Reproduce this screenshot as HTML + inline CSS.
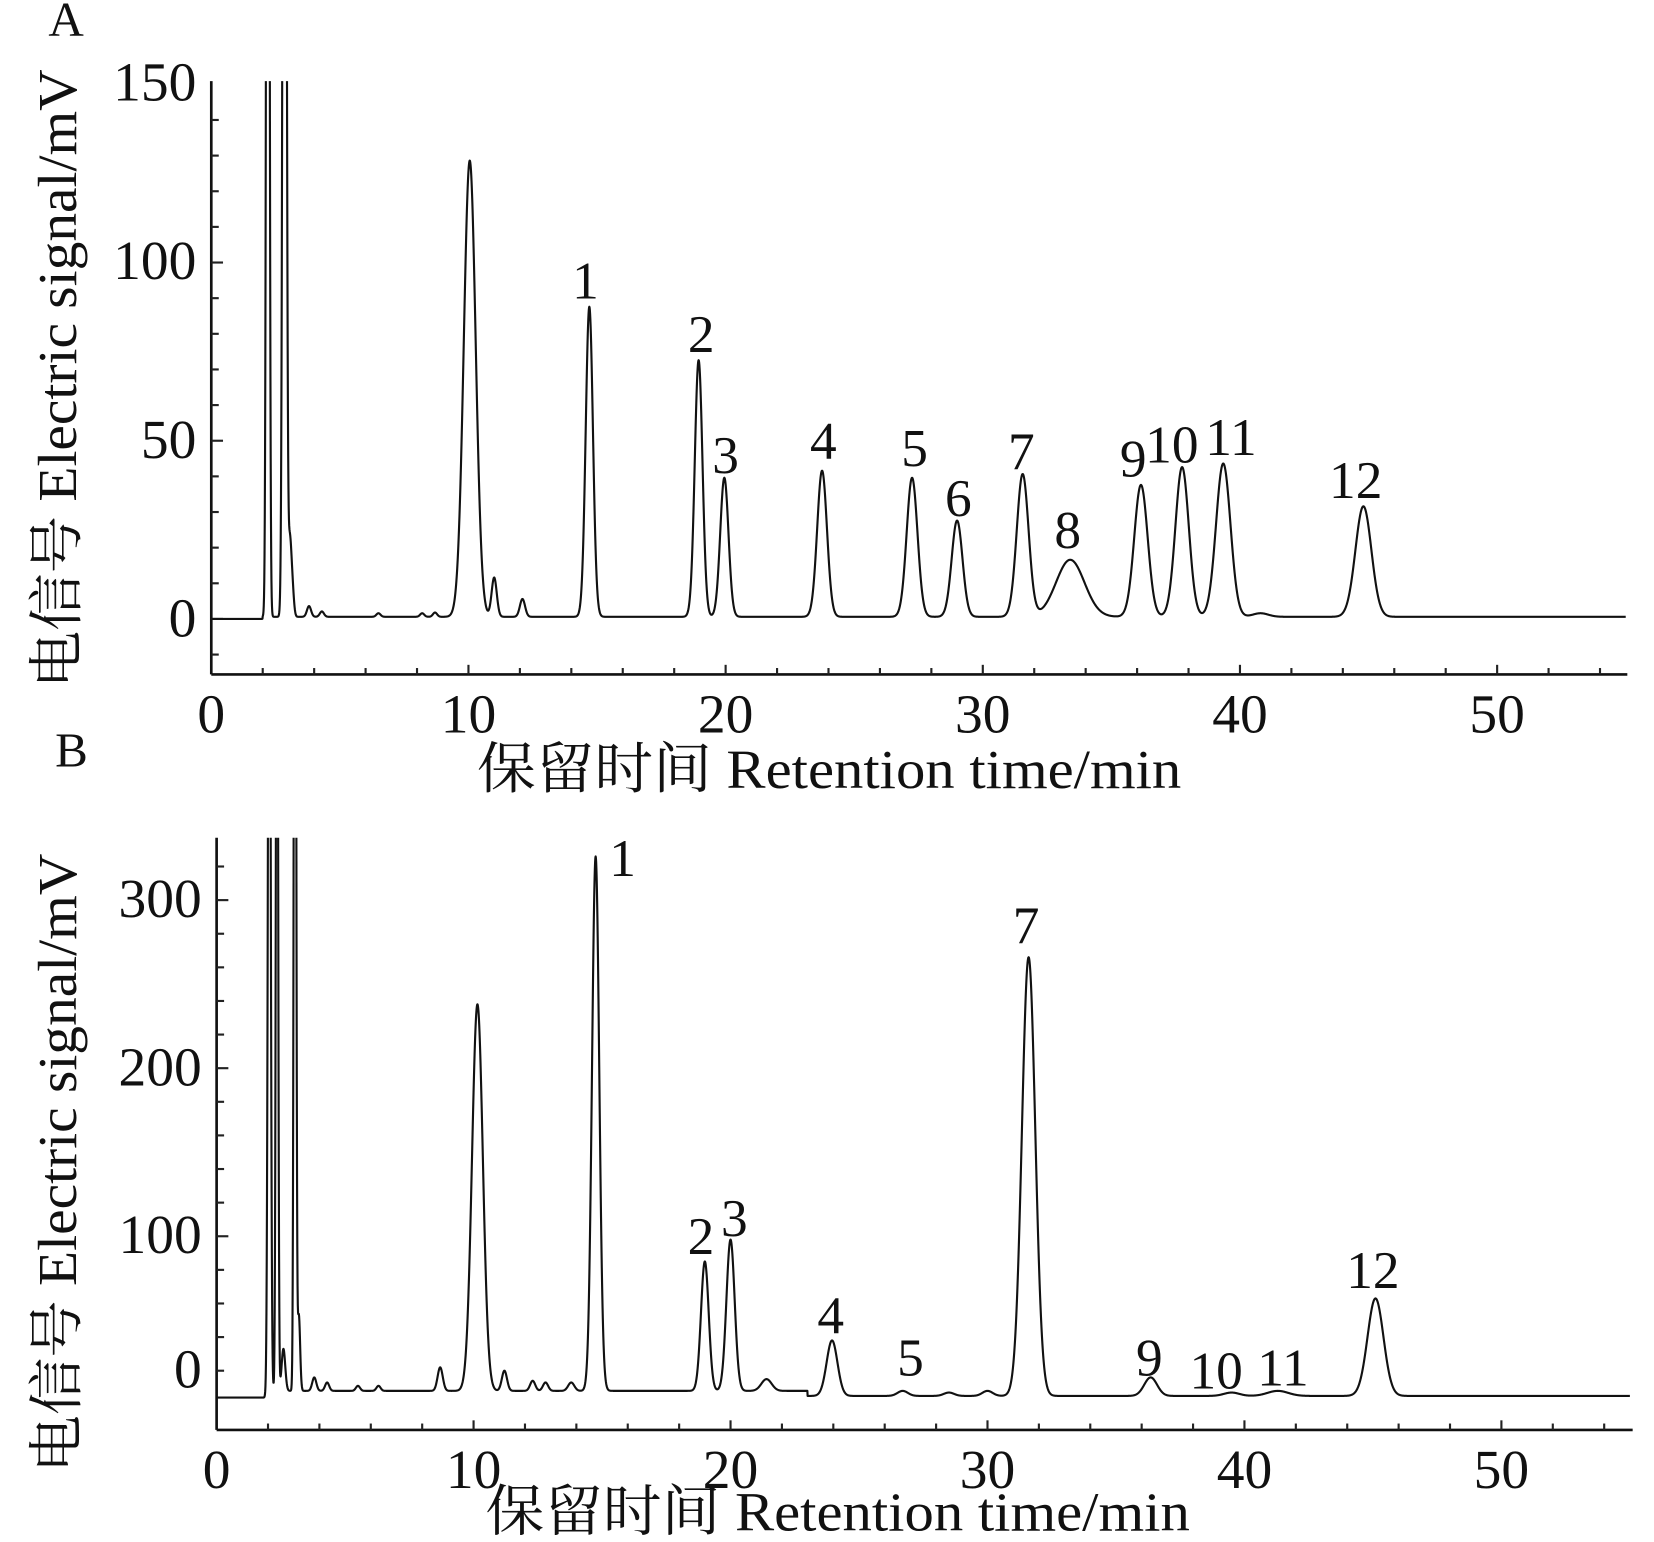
<!DOCTYPE html>
<html><head><meta charset="utf-8">
<style>
html,body{margin:0;padding:0;background:#fff;}
svg{display:block;}
text{font-family:"Liberation Serif","Noto Serif CJK SC","Noto Sans CJK SC",serif;fill:#111;}
</style></head>
<body>
<svg id="fig" width="1654" height="1542" viewBox="0 0 1550 1445" xmlns="http://www.w3.org/2000/svg">
<defs>
<clipPath id="clipA"><rect x="198" y="76" width="1330" height="556"/></clipPath>
<clipPath id="clipB"><rect x="203" y="785" width="1330" height="555"/></clipPath>
</defs>
<text x="62" y="18" font-size="46" text-anchor="middle" dominant-baseline="central">A</text>
<text x="67" y="703" font-size="46" text-anchor="middle" dominant-baseline="central">B</text>
<g id="gA"></g>
<g id="gB"></g>
</svg>
<script>
// ---- Panel A data ----
const peakTimesA = [2.2, 2.85, 3.05, 3.15, 3.8, 4.3, 6.5, 8.2, 8.7, 10.05, 11.0, 12.1, 14.7, 18.95, 19.95, 23.75, 27.25, 29.0, 31.55, 33.4, 36.15, 37.75, 39.35, 40.8, 44.8];
const peakHeightsA = [500, 500, 20, 8, 3, 1.5, 1, 1, 1.2, 128, 11, 5, 87, 72, 39, 41, 39, 27, 40, 16, 37, 42, 43, 1, 31];
const peakWidthsA = [0.05, 0.06, 0.06, 0.06, 0.08, 0.08, 0.08, 0.08, 0.08, 0.23, 0.1, 0.1, 0.14, 0.15, 0.16, 0.19, 0.21, 0.21, 0.23, 0.55, 0.26, 0.26, 0.28, 0.3, 0.31];
const labelTextA = ["1","2","3","4","5","6","7","8","9","10","11","12"];
const labelTimesA = [14.55, 19.05, 20.0, 23.8, 27.35, 29.05, 31.5, 33.3, 35.85, 37.35, 39.65, 44.5];
const labelValuesA = [95, 80, 46, 50, 48, 34, 47, 25, 45, 49, 51, 39];
const yTicksA = [0, 50, 100, 150];
const xTicks = [0, 10, 20, 30, 40, 50];
// ---- Panel B data ----
const peakTimesB = [2.05, 2.35, 2.6, 3.05, 3.2, 3.8, 4.3, 5.5, 6.3, 8.7, 10.15, 11.2, 12.3, 12.8, 13.8, 14.75, 19.0, 20.0, 21.4, 23.95, 26.7, 28.5, 30.0, 31.6, 36.35, 39.5, 41.3, 45.1];
const peakHeightsB = [600, 600, 25, 800, 45, 8, 5, 3, 3, 14, 230, 12, 6, 5, 5, 318, 77, 90, 7, 33, 3, 2, 3, 261, 11, 2, 3, 58];
const peakWidthsB = [0.05, 0.04, 0.07, 0.04, 0.05, 0.08, 0.08, 0.08, 0.08, 0.1, 0.21, 0.1, 0.1, 0.1, 0.12, 0.14, 0.15, 0.16, 0.2, 0.21, 0.2, 0.2, 0.2, 0.26, 0.25, 0.3, 0.4, 0.31];
const labelTextB = ["1","2","3","4","5","7","9","10","11","12"];
const labelTimesB = [15.8, 18.85, 20.15, 23.9, 27.0, 31.5, 36.3, 38.9, 41.5, 45.0];
const labelValuesB = [325, 100, 111, 53, 28, 285, 28, 20, 22, 80];
const yTicksB = [100, 200, 300];

const NS = "http://www.w3.org/2000/svg";
function mk(tag, attrs, parent){const e=document.createElementNS(NS,tag);for(const k in attrs)e.setAttribute(k,attrs[k]);parent.appendChild(e);return e;}

function drawPanel(g, cfg){
  const xS = t => cfg.x0 + t*cfg.pxPerMin;
  const yS = v => cfg.y0 - v*cfg.pxPerMV;
  const yAxis = mk("line",{x1:cfg.x0,y1:cfg.top,x2:cfg.x0,y2:cfg.bottom,stroke:"#111","stroke-width":2.5},g);
  
  
  const xAxis = mk("line",{x1:cfg.x0,y1:cfg.bottom,x2:cfg.right,y2:cfg.bottom,stroke:"#111","stroke-width":2.5},g);
  
  
  for(let v=cfg.tickMin; v<=cfg.tickMax; v+=cfg.tickStep){
    const major = cfg.majorTicks.includes(v);
    const tk = mk("line",{x1:cfg.x0,y1:yS(v),x2:cfg.x0+(major?11:7),y2:yS(v),stroke:"#222","stroke-width":2},g);
    
    
  }
  cfg.yLabels.forEach((lab,i)=>{
    const t = mk("text",{x:cfg.x0-14,y:cfg.yLabelPos[i],"font-size":52,"text-anchor":"end","dominant-baseline":"central"},g);
    t.textContent = lab;
    
    
  });
  for(let m=2; m<=54; m+=2){
    const major = m%10===0;
    const tk = mk("line",{x1:xS(m),y1:cfg.bottom,x2:xS(m),y2:cfg.bottom-(major?9:6),stroke:"#222","stroke-width":2},g);
    
    
  }
  xTicks.forEach(m=>{
    const t = mk("text",{x:xS(m),y:cfg.bottom+38,"font-size":52,"text-anchor":"middle","dominant-baseline":"central"},g);
    t.textContent = String(m);
    
    
  });
  const xt = mk("text",{x:cfg.xTitleX,y:cfg.xTitleY,"font-size":52,"text-anchor":"middle","dominant-baseline":"central",textLength:660,lengthAdjust:"spacingAndGlyphs"},g);
  xt.textContent = "保留时间 Retention time/min";
  
  
  const yt = mk("text",{x:0,y:0,"font-size":52,"text-anchor":"middle","dominant-baseline":"central",textLength:580,lengthAdjust:"spacingAndGlyphs",transform:`translate(55,${cfg.yTitleY}) rotate(-90)`},g);
  yt.textContent = "电信号 Electric signal/mV";
  
  
  let d="";
  for(let i=0;i<=5500;i++){
    const t=i*0.01;
    let v=cfg.base(t);
    for(let k=0;k<cfg.times.length;k++){
      const z=(t-cfg.times[k])/cfg.widths[k];
      if(Math.abs(z)<8) v+=cfg.heights[k]*Math.exp(-0.5*z*z);
    }
    d+=(i?"L":"M")+xS(t).toFixed(2)+" "+yS(v).toFixed(2);
  }
  const p = mk("path",{d:d,fill:"none",stroke:"#111","stroke-width":2,"clip-path":`url(#${cfg.clip})`,"stroke-linejoin":"round"},g);
  
  
  cfg.labels.forEach((lab,i)=>{
    const t = mk("text",{x:xS(cfg.labelTimes[i]),y:yS(cfg.labelValues[i]),"font-size":50,"text-anchor":"middle","dominant-baseline":"central"},g);
    t.textContent = lab;
    
    
  });
}

drawPanel(document.getElementById("gA"),{
  name:"panel-a", x0:198, pxPerMin:24.1, y0:580, pxPerMV:3.34, top:76, bottom:632, right:1525,
  tickMin:-10, tickMax:140, tickStep:10, majorTicks:[0,50,100],
  yLabels:yTicksA.map(String), yLabelPos:[580,413,245,78],
  xTitleX:777, xTitleY:722, yTitleY:355, clip:"clipA",
  times:peakTimesA, heights:peakHeightsA, widths:peakWidthsA,
  base:t=> t<2.0?0:0.6,
  labels:labelTextA, labelTimes:labelTimesA, labelValues:labelValuesA
});
drawPanel(document.getElementById("gB"),{
  name:"panel-b", x0:203, pxPerMin:24.08, y0:1316, pxPerMV:1.575, top:785, bottom:1340, right:1530,
  tickMin:20, tickMax:320, tickStep:20, majorTicks:[100,200,300],
  yLabels:["0"].concat(yTicksB.map(String)), yLabelPos:[1284,1158,1001,843],
  xTitleX:785, xTitleY:1418, yTitleY:1090, clip:"clipB",
  times:peakTimesB, heights:peakHeightsB, widths:peakWidthsB,
  base:t=> t<2.0?4:(t<23?8:5),
  labels:labelTextB, labelTimes:labelTimesB, labelValues:labelValuesB
});
</script>
</body></html>
